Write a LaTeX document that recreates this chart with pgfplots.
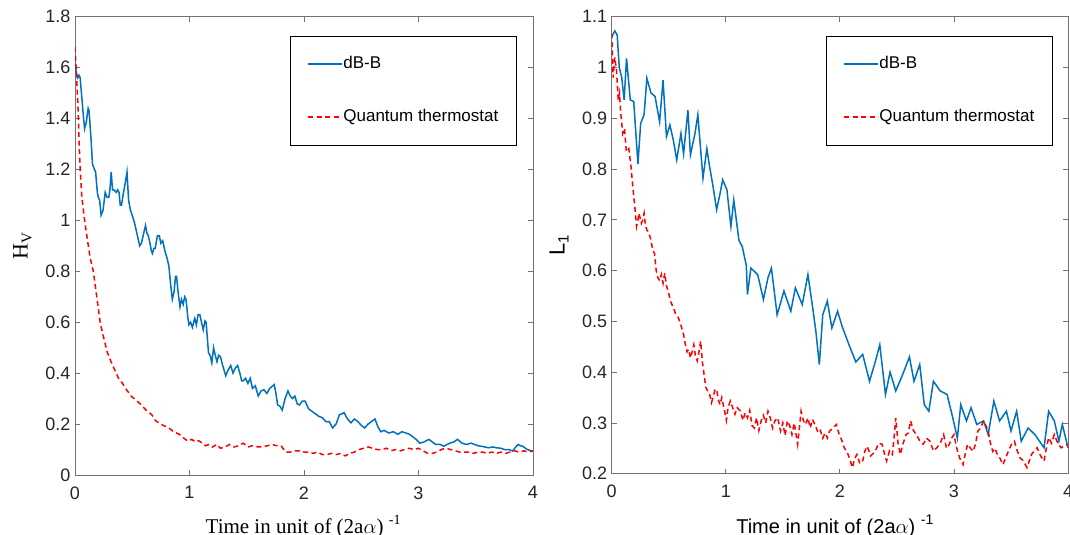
\documentclass[border=0pt]{standalone}
\usepackage{pgfplots}
\usepackage{pgfplotstable}
\pgfplotsset{compat=1.18}
\usepackage{fontspec}
\setmainfont{Liberation Serif}
\setsansfont{Liberation Sans}
\definecolor{mblue}{rgb}{0,0.447,0.741}
\definecolor{mred}{rgb}{1,0,0}

\pgfplotstableread{
x y
0 1.62
0.012 1.58
0.024 1.56
0.035 1.57
0.045 1.56
0.06 1.48
0.075 1.40
0.084 1.36
0.1 1.39
0.115 1.44
0.123 1.43
0.14 1.32
0.153 1.22
0.17 1.20
0.18 1.19
0.195 1.11
0.204 1.09
0.215 1.08
0.228 1.02
0.245 1.04
0.264 1.11
0.28 1.09
0.295 1.09
0.305 1.12
0.316 1.19
0.328 1.12
0.34 1.12
0.36 1.11
0.372 1.12
0.385 1.11
0.395 1.06
0.406 1.06
0.42 1.10
0.44 1.15
0.454 1.19
0.468 1.08
0.484 1.04
0.5 1.02
0.52 0.99
0.535 0.96
0.55 0.93
0.565 0.90
0.58 0.91
0.6 0.95
0.616 0.98
0.628 0.95
0.64 0.94
0.655 0.91
0.667 0.88
0.676 0.87
0.69 0.89
0.70 0.89
0.72 0.94
0.736 0.94
0.75 0.91
0.766 0.92
0.785 0.88
0.805 0.85
0.82 0.82
0.835 0.75
0.85 0.69
0.865 0.72
0.878 0.78
0.887 0.78
0.9 0.72
0.917 0.66
0.93 0.69
0.945 0.67
0.958 0.70
0.97 0.69
0.985 0.62
0.995 0.59
1.01 0.60
1.025 0.58
1.046 0.615
1.06 0.59
1.075 0.63
1.09 0.63
1.105 0.60
1.12 0.57
1.135 0.605
1.145 0.60
1.166 0.48
1.18 0.47
1.195 0.44
1.21 0.50
1.225 0.47
1.24 0.445
1.255 0.47
1.27 0.465
1.29 0.43
1.316 0.39
1.335 0.41
1.36 0.43
1.38 0.40
1.40 0.42
1.42 0.43
1.44 0.40
1.455 0.37
1.47 0.37
1.49 0.38
1.51 0.36
1.53 0.38
1.55 0.34
1.575 0.35
1.60 0.31
1.625 0.33
1.65 0.335
1.675 0.32
1.70 0.34
1.74 0.355
1.755 0.32
1.77 0.275
1.79 0.27
1.81 0.255
1.835 0.30
1.86 0.33
1.88 0.31
1.90 0.30
1.92 0.31
1.94 0.28
1.96 0.275
1.985 0.29
2.01 0.29
2.04 0.26
2.07 0.25
2.10 0.24
2.13 0.23
2.16 0.225
2.19 0.21
2.22 0.21
2.25 0.185
2.28 0.20
2.31 0.237
2.33 0.24
2.35 0.245
2.38 0.22
2.41 0.205
2.44 0.22
2.47 0.21
2.50 0.195
2.53 0.185
2.56 0.20
2.59 0.21
2.62 0.22
2.645 0.19
2.67 0.17
2.70 0.175
2.74 0.165
2.78 0.17
2.82 0.16
2.855 0.17
2.89 0.165
2.92 0.16
2.95 0.15
2.98 0.14
3.01 0.125
3.05 0.13
3.09 0.14
3.12 0.13
3.15 0.12
3.19 0.12
3.22 0.113
3.25 0.12
3.28 0.126
3.31 0.13
3.34 0.14
3.38 0.125
3.42 0.12
3.46 0.125
3.49 0.12
3.52 0.115
3.55 0.113
3.58 0.11
3.61 0.107
3.65 0.11
3.68 0.107
3.72 0.105
3.75 0.10
3.79 0.10
3.82 0.094
3.85 0.11
3.87 0.12
3.89 0.115
3.91 0.113
3.95 0.10
3.99 0.094
4.0 0.095
}\LB

\pgfplotstableread{
x y
0 1.68
0.012 1.58
0.024 1.47
0.035 1.32
0.045 1.20
0.06 1.09
0.084 1.00
0.11 0.92
0.13 0.86
0.144 0.83
0.16 0.80
0.19 0.70
0.22 0.60
0.25 0.54
0.28 0.485
0.31 0.45
0.34 0.42
0.38 0.38
0.415 0.36
0.45 0.335
0.49 0.31
0.53 0.295
0.58 0.275
0.62 0.255
0.67 0.237
0.70 0.215
0.73 0.205
0.77 0.195
0.82 0.185
0.86 0.17
0.91 0.16
0.95 0.145
0.985 0.133
1.02 0.14
1.05 0.13
1.08 0.135
1.11 0.125
1.14 0.115
1.17 0.12
1.20 0.11
1.24 0.12
1.27 0.105
1.31 0.11
1.35 0.12
1.39 0.11
1.43 0.115
1.47 0.125
1.51 0.11
1.55 0.115
1.60 0.11
1.64 0.11
1.68 0.115
1.72 0.12
1.76 0.115
1.80 0.115
1.84 0.09
1.88 0.09
1.92 0.095
1.96 0.095
2.00 0.09
2.04 0.09
2.08 0.085
2.12 0.09
2.16 0.08
2.20 0.08
2.24 0.085
2.28 0.08
2.32 0.085
2.36 0.075
2.40 0.085
2.44 0.09
2.48 0.10
2.52 0.105
2.56 0.11
2.60 0.105
2.64 0.10
2.68 0.10
2.72 0.105
2.76 0.095
2.80 0.10
2.84 0.095
2.88 0.10
2.92 0.105
2.96 0.10
3.00 0.105
3.04 0.095
3.08 0.085
3.12 0.085
3.16 0.09
3.20 0.10
3.24 0.105
3.28 0.10
3.32 0.095
3.36 0.09
3.40 0.09
3.44 0.09
3.48 0.085
3.52 0.09
3.56 0.09
3.60 0.085
3.64 0.09
3.68 0.085
3.72 0.09
3.76 0.085
3.80 0.09
3.84 0.095
3.88 0.09
3.92 0.095
3.96 0.09
4.0 0.095
}\LR

\pgfplotstableread{
x y
0 1.06
0.027 1.072
0.048 1.064
0.066 1.00
0.088 0.98
0.109 0.936
0.13 1.018
0.163 0.936
0.193 0.933
0.23 0.81
0.254 0.89
0.284 0.907
0.308 0.979
0.344 0.95
0.38 0.943
0.42 0.893
0.45 0.975
0.48 0.864
0.51 0.887
0.54 0.857
0.57 0.818
0.607 0.87
0.63 0.83
0.668 0.916
0.69 0.828
0.73 0.87
0.755 0.907
0.80 0.782
0.834 0.84
0.858 0.805
0.888 0.766
0.92 0.72
0.95 0.752
0.973 0.779
1.01 0.759
1.045 0.687
1.07 0.739
1.115 0.66
1.145 0.647
1.18 0.61
1.19 0.553
1.22 0.605
1.28 0.592
1.33 0.543
1.37 0.586
1.40 0.605
1.45 0.513
1.51 0.56
1.57 0.52
1.61 0.566
1.67 0.533
1.72 0.592
1.76 0.53
1.79 0.48
1.82 0.415
1.85 0.513
1.89 0.54
1.93 0.487
1.98 0.52
2.02 0.49
2.08 0.454
2.14 0.42
2.20 0.435
2.26 0.382
2.31 0.42
2.35 0.454
2.40 0.356
2.44 0.40
2.49 0.363
2.55 0.395
2.61 0.43
2.65 0.382
2.70 0.415
2.74 0.336
2.78 0.323
2.82 0.382
2.88 0.363
2.94 0.356
2.99 0.31
3.03 0.27
3.06 0.336
3.11 0.304
3.15 0.33
3.20 0.297
3.26 0.304
3.30 0.277
3.35 0.343
3.40 0.304
3.46 0.323
3.50 0.284
3.55 0.323
3.59 0.264
3.65 0.29
3.71 0.277
3.79 0.251
3.83 0.323
3.88 0.304
3.92 0.264
3.95 0.297
4.0 0.251
}\RB

\pgfplotstableread{
x y
0 1.067
0.012 0.98
0.027 1.02
0.042 0.995
0.057 0.936
0.068 0.95
0.079 0.91
0.097 0.87
0.112 0.88
0.127 0.838
0.148 0.844
0.169 0.805
0.193 0.746
0.205 0.72
0.218 0.687
0.23 0.70
0.239 0.713
0.26 0.693
0.272 0.70
0.284 0.713
0.295 0.69
0.308 0.68
0.325 0.675
0.344 0.66
0.36 0.64
0.375 0.634
0.39 0.60
0.405 0.586
0.42 0.58
0.435 0.592
0.45 0.575
0.465 0.595
0.48 0.57
0.495 0.56
0.515 0.54
0.54 0.527
0.56 0.515
0.585 0.507
0.61 0.49
0.63 0.474
0.645 0.455
0.66 0.44
0.675 0.445
0.69 0.428
0.705 0.44
0.72 0.454
0.735 0.43
0.75 0.422
0.765 0.44
0.78 0.461
0.795 0.42
0.81 0.395
0.825 0.37
0.84 0.363
0.86 0.355
0.875 0.34
0.888 0.35
0.905 0.365
0.92 0.366
0.935 0.345
0.95 0.336
0.965 0.35
0.99 0.323
1.005 0.305
1.02 0.33
1.04 0.343
1.06 0.33
1.08 0.317
1.10 0.33
1.13 0.323
1.15 0.305
1.17 0.32
1.19 0.31
1.21 0.325
1.23 0.295
1.25 0.29
1.27 0.31
1.29 0.285
1.31 0.304
1.33 0.315
1.35 0.30
1.37 0.323
1.39 0.31
1.41 0.29
1.43 0.304
1.455 0.31
1.48 0.284
1.50 0.30
1.52 0.275
1.54 0.304
1.56 0.295
1.58 0.277
1.60 0.30
1.63 0.258
1.645 0.29
1.66 0.323
1.68 0.305
1.70 0.297
1.72 0.31
1.74 0.29
1.76 0.307
1.785 0.295
1.81 0.28
1.83 0.285
1.85 0.27
1.87 0.28
1.89 0.27
1.91 0.284
1.94 0.29
1.97 0.297
1.99 0.28
2.02 0.264
2.04 0.25
2.06 0.245
2.085 0.23
2.11 0.212
2.13 0.23
2.15 0.238
2.175 0.22
2.20 0.225
2.22 0.245
2.24 0.254
2.27 0.235
2.31 0.244
2.34 0.26
2.37 0.258
2.39 0.24
2.41 0.225
2.435 0.245
2.46 0.238
2.475 0.27
2.49 0.31
2.51 0.26
2.53 0.238
2.555 0.26
2.58 0.277
2.60 0.28
2.62 0.304
2.645 0.285
2.67 0.277
2.70 0.265
2.73 0.258
2.76 0.27
2.79 0.264
2.82 0.245
2.85 0.251
2.88 0.26
2.91 0.277
2.935 0.25
2.96 0.258
2.98 0.27
3.0 0.277
3.025 0.25
3.05 0.231
3.08 0.218
3.10 0.24
3.12 0.258
3.145 0.25
3.17 0.244
3.19 0.26
3.21 0.284
3.235 0.29
3.26 0.304
3.28 0.295
3.30 0.284
3.32 0.26
3.34 0.244
3.36 0.25
3.38 0.238
3.405 0.23
3.43 0.218
3.46 0.235
3.49 0.251
3.51 0.26
3.53 0.264
3.555 0.245
3.58 0.231
3.61 0.225
3.64 0.212
3.66 0.225
3.68 0.238
3.705 0.245
3.73 0.251
3.76 0.235
3.79 0.225
3.81 0.25
3.83 0.271
3.855 0.26
3.88 0.277
3.91 0.26
3.94 0.251
3.97 0.255
4.0 0.258
}\RR

\pgfplotsset{
  myax/.style={
    scale only axis,
    xmin=0, xmax=4, xtick={0,1,2,3,4},
    tick align=inside,
    major tick length=5pt,
    axis line style={black!55, line width=0.8pt},
    every tick/.style={black!55, line width=0.8pt},
    ticklabel style={font=\sffamily\fontsize{18}{21}\selectfont, text=black!85},
    /pgf/number format/assume math mode=true,
    xticklabel style={yshift=-8pt},
    yticklabel style={xshift=-1pt},
    legend cell align=left,
    legend style={draw=black, fill=white,
      anchor=north east,
      font=\sffamily\fontsize{17}{20}\selectfont,
      inner xsep=17pt, inner ysep=20pt, row sep=37pt,
      nodes={inner sep=0.5pt, text height=12pt, text depth=3pt}},
  },
  blueline/.style={color=mblue, solid, line width=1.5pt},
  redline/.style={color=mred, line width=1.5pt, dash pattern=on 5pt off 3.5pt},
}
\pgfplotsset{legend image code/.code={\draw[#1] (0pt,0pt) -- (34pt,0pt);}}

\begin{document}
\begin{tikzpicture}
\useasboundingbox (0,0) rectangle (1070pt,535pt);
\begin{axis}[myax,
  at={(75pt,60pt)}, anchor=south west,
  width=458pt, height=458.3pt,
  ymin=0, ymax=1.8, ytick={0,0.2,0.4,0.6,0.8,1,1.2,1.4,1.6,1.8},
  legend style={at={(axis description cs:0.963,0.958)}},
  xlabel={\fontsize{21}{24}\selectfont Time in unit of (2a$\alpha$) \raisebox{9pt}{\fontsize{14}{14}\selectfont -1}},
  xlabel style={at={(axis description cs:0.498,-0.1266)}, anchor=base},
  ylabel={\fontsize{22}{24}\selectfont H\raisebox{-4pt}{\fontsize{15}{15}\selectfont V}},
  ylabel style={at={(axis description cs:-0.1146,0.5)}, anchor=center},
]
\addplot[blueline] table {\LB};
\addlegendentry{dB-B}
\addplot[redline] table {\LR};
\addlegendentry{Quantum thermostat}
\end{axis}
\begin{axis}[myax,
  at={(611.7pt,61.3pt)}, anchor=south west,
  width=456.3pt, height=457pt,
  ymin=0.2, ymax=1.1, ytick={0.2,0.3,0.4,0.5,0.6,0.7,0.8,0.9,1,1.1},
  legend style={at={(axis description cs:0.965,0.958)}},
  xlabel={\sffamily\fontsize{20}{24}\selectfont Time in unit of (2a$\alpha$) \raisebox{9pt}{\fontsize{14}{14}\selectfont -1}},
  xlabel style={at={(axis description cs:0.489,-0.1298)}, anchor=base},
  ylabel={\sffamily\fontsize{22}{24}\selectfont L\raisebox{-4pt}{\fontsize{15}{15}\selectfont 1}},
  ylabel style={at={(axis description cs:-0.1156,0.5)}, anchor=center},
]
\addplot[blueline] table {\RB};
\addlegendentry{dB-B}
\addplot[redline] table {\RR};
\addlegendentry{Quantum thermostat}
\end{axis}
\end{tikzpicture}
\end{document}
